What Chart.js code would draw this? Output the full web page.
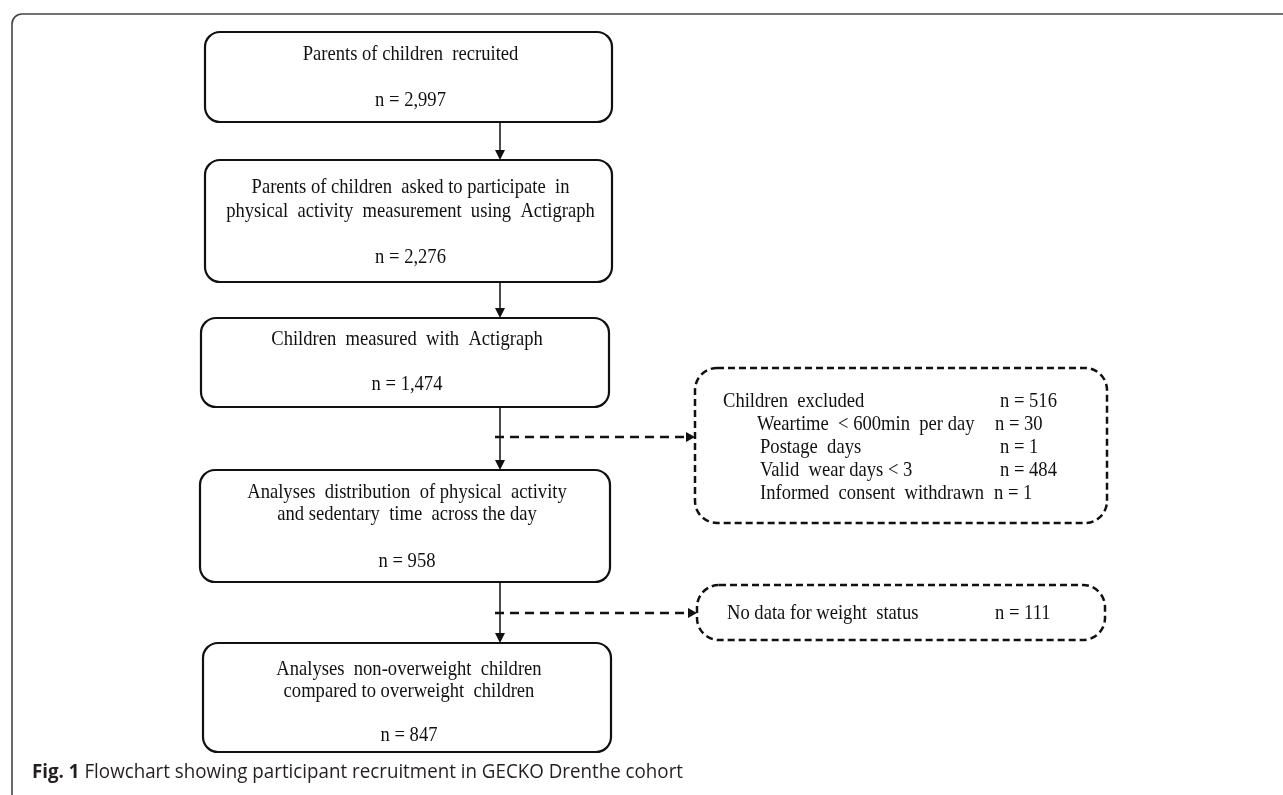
<!DOCTYPE html>
<html>
<head>
<meta charset="utf-8">
<script src="https://cdn.jsdelivr.net/npm/chart.js@4.4.1/dist/chart.umd.min.js"></script>
<style>
  html, body { margin: 0; padding: 0; background: #fff; }
  canvas { display: block; }
</style>
</head>
<body>
<canvas id="flow" width="1283" height="795"></canvas>
<script>
// flowchart content
const stepTitles = [
    ['Parents of children  recruited'],
    ['Parents of children  asked to participate  in', 'physical  activity  measurement  using  Actigraph'],
    ['Children  measured  with  Actigraph'],
    ['Analyses  distribution  of physical  activity', 'and sedentary  time  across the day'],
    ['Analyses  non-overweight  children', 'compared to overweight  children']
];
const stepCounts = [2997, 2276, 1474, 958, 847];
const excludedTitles = ['Children  excluded', 'Weartime  < 600min  per day', 'Postage  days', 'Valid  wear days < 3', 'Informed  consent  withdrawn'];
const excludedCounts = [516, 30, 1, 484, 1];
const missingTitles = ['No data for weight  status'];
const missingCounts = [111];
const captionLabel = 'Fig. 1';
const captionText = 'Flowchart showing participant recruitment in GECKO Drenthe cohort';

// layout, in axis units
const stepBoxes = [[205, 32, 612, 122], [205, 160, 612, 282], [201, 318, 609, 407], [200, 470, 610, 582], [203, 643, 611, 752]];
const stepLineY = [[60], [193, 217], [345], [498, 520], [675, 697]];
const stepCountY = [106, 263, 390, 567, 741];
const trunkX = 500;
const sideBoxes = [[695, 368, 1107, 523], [697, 585, 1105, 640]];
const sideArrowY = [437, 613];
const excludedY = [407, 430, 453, 476, 499];
const excludedLabelX = [723, 757, 760, 760, 760];
const excludedCountX = [1000, 995, 1000, 1000, 994];

const serif = '21px "Liberation Serif", "Times New Roman", serif';
const squeeze = 0.885;

function fmt(n) {
    return 'n = ' + n.toLocaleString('en-US');
}

function roundBox(ctx, x0, y0, x1, y1, r) {
    ctx.beginPath();
    ctx.moveTo(x0 + r, y0);
    ctx.arcTo(x1, y0, x1, y1, r);
    ctx.arcTo(x1, y1, x0, y1, r);
    ctx.arcTo(x0, y1, x0, y0, r);
    ctx.arcTo(x0, y0, x1, y0, r);
    ctx.closePath();
}

function label(ctx, str, x, y, align) {
    ctx.save();
    ctx.translate(x, y);
    ctx.scale(squeeze, 1);
    ctx.textAlign = align;
    ctx.fillText(str, 0, 0);
    ctx.restore();
}

function head(ctx, x, y, dir) {
    ctx.beginPath();
    if (dir === 'down') {
        ctx.moveTo(x - 5, y - 10);
        ctx.lineTo(x + 5, y - 10);
    } else {
        ctx.moveTo(x - 9, y - 5);
        ctx.lineTo(x - 9, y + 5);
    }
    ctx.lineTo(x, y);
    ctx.closePath();
    ctx.fill();
}

const flowPlugin = {
    id: 'flow',
    afterDraw(chart) {
        const { ctx } = chart;
        const sx = v => chart.scales.x.getPixelForValue(v);
        const sy = v => chart.scales.y.getPixelForValue(v);
        ctx.save();
        ctx.fillStyle = '#111';
        ctx.strokeStyle = '#111';
        ctx.textBaseline = 'alphabetic';

        // outer figure frame
        ctx.lineWidth = 1.6;
        ctx.strokeStyle = '#444';
        roundBox(ctx, sx(12), sy(14), sx(1320), sy(840), 10);
        ctx.stroke();
        ctx.strokeStyle = '#111';

        // main steps
        ctx.font = serif;
        stepTitles.forEach((lines, i) => {
            const [x0, y0, x1, y1] = stepBoxes[i];
            ctx.lineWidth = 2.2;
            roundBox(ctx, sx(x0), sy(y0), sx(x1), sy(y1), 15);
            ctx.stroke();
            const cx = sx((x0 + x1) / 2 + 2);
            lines.forEach((t, j) => label(ctx, t, cx, sy(stepLineY[i][j]), 'center'));
            label(ctx, fmt(stepCounts[i]), cx, sy(stepCountY[i]), 'center');
        });

        // trunk arrows
        ctx.lineWidth = 1.5;
        for (let i = 0; i < stepBoxes.length - 1; i++) {
            const top = sy(stepBoxes[i][3]);
            const bot = sy(stepBoxes[i + 1][1]);
            ctx.beginPath();
            ctx.moveTo(sx(trunkX), top);
            ctx.lineTo(sx(trunkX), bot - 8);
            ctx.stroke();
            head(ctx, sx(trunkX), bot, 'down');
        }

        // side (exclusion) boxes
        ctx.lineWidth = 2.5;
        ctx.setLineDash([7, 4]);
        sideBoxes.forEach(([x0, y0, x1, y1]) => {
            roundBox(ctx, sx(x0), sy(y0), sx(x1), sy(y1), 22);
            ctx.stroke();
        });
        ctx.setLineDash([9, 6]);
        sideArrowY.forEach((yv, i) => {
            const end = sx(sideBoxes[i][0]);
            ctx.beginPath();
            ctx.moveTo(sx(trunkX - 5), sy(yv));
            ctx.lineTo(end - 8, sy(yv));
            ctx.stroke();
            head(ctx, end, sy(yv), 'right');
        });
        ctx.setLineDash([]);

        excludedTitles.forEach((t, i) => {
            label(ctx, t, sx(excludedLabelX[i]), sy(excludedY[i]), 'left');
            label(ctx, fmt(excludedCounts[i]), sx(excludedCountX[i]), sy(excludedY[i]), 'left');
        });
        label(ctx, missingTitles[0], sx(727), sy(619), 'left');
        label(ctx, fmt(missingCounts[0]), sx(995), sy(619), 'left');

        // caption
        const bold = 'bold 20px "Open Sans", "Noto Sans", sans-serif';
        const reg = '20px "Open Sans", "Noto Sans", sans-serif';
        ctx.font = bold;
        const wb = ctx.measureText(captionLabel + ' ').width;
        ctx.font = reg;
        const wp = ctx.measureText('Flowchart showing participant recruitment in').width;
        const k = 445 / (wb + wp);
        ctx.fillStyle = '#231f20';
        ctx.save();
        ctx.translate(sx(32), sy(778));
        ctx.scale(k, 1);
        ctx.textAlign = 'left';
        ctx.font = bold;
        ctx.fillText(captionLabel, 0, 0);
        ctx.font = reg;
        ctx.fillText(captionText, wb, 0);
        ctx.restore();

        ctx.restore();
    }
};

new Chart(document.getElementById('flow'), {
    type: 'scatter',
    data: { datasets: [{ data: [] }] },
    options: {
        responsive: false,
        animation: false,
        events: [],
        layout: { padding: 0 },
        plugins: { legend: { display: false }, tooltip: { enabled: false } },
        scales: {
            x: { type: 'linear', min: 0, max: 1283, display: false },
            y: { type: 'linear', min: 0, max: 795, reverse: true, display: false }
        }
    },
    plugins: [flowPlugin]
});
</script>
</body>
</html>
